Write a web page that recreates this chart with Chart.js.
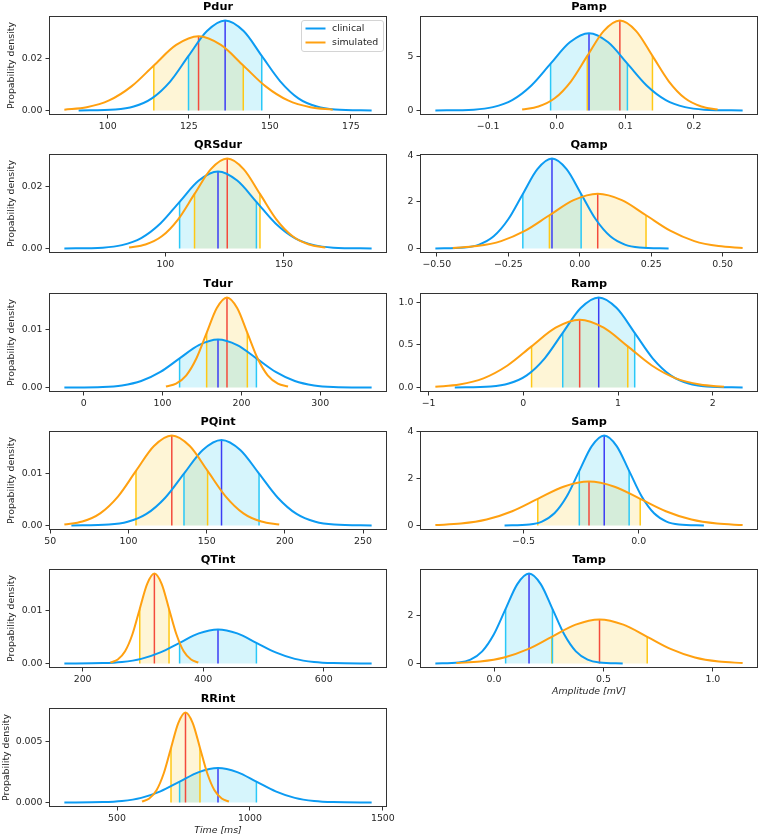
<!DOCTYPE html>
<html>
<head>
<meta charset="utf-8">
<title>ECG feature distributions</title>
<script src="https://cdn.jsdelivr.net/npm/chart.js@4.4.1/dist/chart.umd.min.js"></script>
<style>
  html, body { margin: 0; padding: 0; background: #fff; }
  body { width: 760px; height: 837px; position: relative; overflow: hidden; }
  canvas { position: absolute; }
</style>
</head>
<body>
<script>
// Density curves (x in feature units, y = probability density)
const pdurClinX = [91.0, 102.3, 108.0, 113.6, 119.3, 124.9, 130.6, 136.2, 141.9, 147.5, 153.2, 158.8, 164.5, 170.1, 181.4];
const pdurClinY = [0.00001, 0.00039, 0.00153, 0.00472, 0.01133, 0.02117, 0.0308, 0.0349, 0.0308, 0.02117, 0.01133, 0.00472, 0.00153, 0.00039, 0.00001];
const pdurSimX = [86.6, 93.5, 100.4, 107.3, 114.2, 121.1, 128.0, 134.9, 141.8, 148.7, 155.6, 162.5, 169.4];
const pdurSimY = [0.00032, 0.00126, 0.0039, 0.00935, 0.01747, 0.02542, 0.0288, 0.02542, 0.01747, 0.00935, 0.0039, 0.00126, 0.00032];

const pampClinX = [-0.177, -0.121, -0.093, -0.065, -0.037, -0.009, 0.019, 0.047, 0.075, 0.103, 0.131, 0.159, 0.187, 0.215, 0.271];
const pampClinY = [0.002, 0.079, 0.314, 0.967, 2.322, 4.336, 6.31, 7.15, 6.31, 4.336, 2.322, 0.967, 0.314, 0.079, 0.002];
const pampSimX = [-0.0505, -0.0268, -0.003, 0.0208, 0.0445, 0.0683, 0.092, 0.1158, 0.1395, 0.1633, 0.187, 0.2108, 0.2345];
const pampSimY = [0.092, 0.366, 1.127, 2.705, 5.052, 7.351, 8.33, 7.351, 5.052, 2.705, 1.127, 0.366, 0.092];

const qrsdurClinX = [57.4, 73.6, 81.7, 89.8, 97.9, 106.0, 114.1, 122.2, 130.3, 138.4, 146.5, 154.6, 162.7, 170.8, 187.0];
const qrsdurClinY = [0.00001, 0.00028, 0.00109, 0.00337, 0.00809, 0.0151, 0.02197, 0.0249, 0.02197, 0.0151, 0.00809, 0.00337, 0.00109, 0.00028, 0.00001];
const qrsdurSimX = [84.7, 91.6, 98.5, 105.4, 112.3, 119.2, 126.1, 133.0, 139.9, 146.8, 153.7, 160.6, 167.5];
const qrsdurSimY = [0.00032, 0.00128, 0.00394, 0.00945, 0.01765, 0.02568, 0.0291, 0.02568, 0.01765, 0.00945, 0.00394, 0.00128, 0.00032];

const qampClinX = [-0.505, -0.403, -0.352, -0.301, -0.25, -0.199, -0.148, -0.097, -0.046, 0.005, 0.056, 0.107, 0.158, 0.209, 0.311];
const qampClinY = [0.001, 0.043, 0.169, 0.522, 1.253, 2.341, 3.406, 3.86, 3.406, 2.341, 1.253, 0.522, 0.169, 0.043, 0.001];
const qampSimX = [-0.444, -0.3595, -0.275, -0.1905, -0.106, -0.0215, 0.063, 0.1475, 0.232, 0.3165, 0.401, 0.4855, 0.57];
const qampSimY = [0.026, 0.103, 0.318, 0.763, 1.425, 2.074, 2.35, 2.074, 1.425, 0.763, 0.318, 0.103, 0.026];

const tdurClinX = [-24.5, 24.2, 48.6, 72.9, 97.3, 121.6, 146.0, 170.3, 194.7, 219.0, 243.4, 267.7, 292.1, 316.4, 365.1];
const tdurClinY = [0.0000025, 0.000092, 0.000364, 0.001123, 0.002695, 0.005034, 0.007325, 0.0083, 0.007325, 0.005034, 0.002695, 0.001123, 0.000364, 0.000092, 0.0000025];
const tdurSimX = [104.3, 117.2, 130.1, 143.0, 155.9, 168.8, 181.7, 194.6, 207.5, 220.4, 233.3, 246.2, 259.1];
const tdurSimY = [0.000173, 0.000683, 0.002104, 0.005049, 0.009431, 0.013723, 0.01555, 0.013723, 0.009431, 0.005049, 0.002104, 0.000683, 0.000173];

const rampClinX = [-0.724, -0.344, -0.154, 0.036, 0.226, 0.416, 0.606, 0.796, 0.986, 1.176, 1.366, 1.556, 1.746, 1.936, 2.316];
const rampClinY = [0.0003, 0.0117, 0.0463, 0.1427, 0.3426, 0.6399, 0.931, 1.055, 0.931, 0.6399, 0.3426, 0.1427, 0.0463, 0.0117, 0.0003];
const rampSimX = [-0.929, -0.675, -0.421, -0.167, 0.087, 0.341, 0.595, 0.849, 1.103, 1.357, 1.611, 1.865, 2.119];
const rampSimY = [0.0088, 0.0349, 0.1076, 0.2581, 0.4822, 0.7016, 0.795, 0.7016, 0.4822, 0.2581, 0.1076, 0.0349, 0.0088];

const pqintClinX = [63.5, 87.5, 99.5, 111.5, 123.5, 135.5, 147.5, 159.5, 171.5, 183.5, 195.5, 207.5, 219.5, 231.5, 255.5];
const pqintClinY = [0.000005, 0.000184, 0.000729, 0.002246, 0.00539, 0.010068, 0.01465, 0.0166, 0.01465, 0.010068, 0.00539, 0.002246, 0.000729, 0.000184, 0.000005];
const pqintSimX = [59.0, 70.5, 81.9, 93.4, 104.8, 116.3, 127.7, 139.2, 150.6, 162.1, 173.5, 185.0, 196.4];
const pqintSimY = [0.000194, 0.000766, 0.002361, 0.005666, 0.010583, 0.0154, 0.01745, 0.0154, 0.010583, 0.005666, 0.002361, 0.000766, 0.000194];

const sampClinX = [-0.582, -0.474, -0.42, -0.366, -0.312, -0.258, -0.204, -0.15, -0.096, -0.042, 0.012, 0.066, 0.12, 0.174, 0.282];
const sampClinY = [0.001, 0.0427, 0.169, 0.5209, 1.2501, 2.335, 3.3976, 3.85, 3.3976, 2.335, 1.2501, 0.5209, 0.169, 0.0427, 0.001];
const sampSimX = [-0.882, -0.771, -0.66, -0.549, -0.438, -0.327, -0.216, -0.105, 0.006, 0.117, 0.228, 0.339, 0.45];
const sampSimY = [0.0209, 0.0825, 0.2544, 0.6104, 1.1402, 1.6591, 1.88, 1.6591, 1.1402, 0.6104, 0.2544, 0.0825, 0.0209];

const qtintClinX = [169.7, 233.4, 265.3, 297.1, 329.0, 360.8, 392.7, 424.5, 456.4, 488.2, 520.1, 551.9, 583.8, 615.6, 679.3];
const qtintClinY = [0.000002, 0.000071, 0.000281, 0.000866, 0.002078, 0.003882, 0.005648, 0.0064, 0.005648, 0.003882, 0.002078, 0.000866, 0.000281, 0.000071, 0.000002];
const qtintSimX = [246.1, 258.3, 270.4, 282.6, 294.7, 306.9, 319.0, 331.2, 343.3, 355.5, 367.6, 379.8, 391.9];
const qtintSimY = [0.000188, 0.000742, 0.002287, 0.005487, 0.01025, 0.014914, 0.0169, 0.014914, 0.01025, 0.005487, 0.002287, 0.000742, 0.000188];

const tampClinX = [-0.268, -0.161, -0.1075, -0.054, -0.0005, 0.053, 0.1065, 0.16, 0.2135, 0.267, 0.3205, 0.374, 0.4275, 0.481, 0.588];
const tampClinY = [0.001, 0.0413, 0.1633, 0.5033, 1.2079, 2.2562, 3.2829, 3.72, 3.2829, 2.2562, 1.2079, 0.5033, 0.1633, 0.0413, 0.001];
const tampSimX = [-0.172, -0.063, 0.046, 0.155, 0.264, 0.373, 0.482, 0.591, 0.7, 0.809, 0.918, 1.027, 1.136];
const tampSimY = [0.0202, 0.0799, 0.2462, 0.591, 1.1038, 1.6062, 1.82, 1.6062, 1.1038, 0.591, 0.2462, 0.0799, 0.0202];

const rrintClinX = [301.8, 446.3, 518.6, 590.8, 663.1, 735.3, 807.6, 879.8, 952.1, 1024.3, 1096.6, 1168.8, 1241.1, 1313.3, 1457.8];
const rrintClinY = [0.0000009, 0.0000315, 0.0001247, 0.0003843, 0.0009221, 0.0017225, 0.0025063, 0.00284, 0.0025063, 0.0017225, 0.0009221, 0.0003843, 0.0001247, 0.0000315, 0.0000009];
const rrintSimX = [594.0, 621.3, 648.5, 675.8, 703.0, 730.3, 757.5, 784.8, 812.0, 839.3, 866.5, 893.8, 921.0];
const rrintSimY = [0.0000825, 0.000326, 0.001005, 0.002413, 0.004506, 0.006557, 0.00743, 0.006557, 0.004506, 0.002413, 0.001005, 0.000326, 0.0000825];

// Tick labels
const pdurXTicks = [100, 125, 150, 175];      const pdurYTicks = [0, 0.02];
const pampXTicks = [-0.1, 0, 0.1, 0.2];       const pampYTicks = [0, 5];
const qrsdurXTicks = [100, 150];              const qrsdurYTicks = [0, 0.02];
const qampXTicks = [-0.5, -0.25, 0, 0.25, 0.5]; const qampYTicks = [0, 2, 4];
const tdurXTicks = [0, 100, 200, 300];        const tdurYTicks = [0, 0.01];
const rampXTicks = [-1, 0, 1, 2];             const rampYTicks = [0, 0.5, 1];
const pqintXTicks = [50, 100, 150, 200, 250]; const pqintYTicks = [0, 0.01];
const sampXTicks = [-0.5, 0];                 const sampYTicks = [0, 2, 4];
const qtintXTicks = [200, 400, 600];          const qtintYTicks = [0, 0.01];
const tampXTicks = [0, 0.5, 1];               const tampYTicks = [0, 2];
const rrintXTicks = [500, 1000, 1500];        const rrintYTicks = [0, 0.005];

// index of (mean - sd, mean, mean + sd) inside each curve
const CLIN_MARK_IDX = [5, 7, 9];
const SIM_MARK_IDX = [4, 6, 8];

const COLORS = {
    clin: '#0c9bf2',
    sim: '#ffa010',
    clinMean: '#3c3cf5',
    simMean: '#f44a3c',
    clinSd: '#29c8f8',
    simSd: '#ffc814',
    clinShade: 'rgba(0, 190, 235, 0.16)',
    simShade: 'rgba(250, 200, 30, 0.18)'
};

const PANELS = [
    { name: 'Pdur', col: 0, row: 0, cx: pdurClinX, cy: pdurClinY, sx: pdurSimX, sy: pdurSimY, xt: pdurXTicks, xd: 0, yt: pdurYTicks, yd: 2, legend: true },
    { name: 'Pamp', col: 1, row: 0, cx: pampClinX, cy: pampClinY, sx: pampSimX, sy: pampSimY, xt: pampXTicks, xd: 1, yt: pampYTicks, yd: 0 },
    { name: 'QRSdur', col: 0, row: 1, cx: qrsdurClinX, cy: qrsdurClinY, sx: qrsdurSimX, sy: qrsdurSimY, xt: qrsdurXTicks, xd: 0, yt: qrsdurYTicks, yd: 2 },
    { name: 'Qamp', col: 1, row: 1, cx: qampClinX, cy: qampClinY, sx: qampSimX, sy: qampSimY, xt: qampXTicks, xd: 2, yt: qampYTicks, yd: 0 },
    { name: 'Tdur', col: 0, row: 2, cx: tdurClinX, cy: tdurClinY, sx: tdurSimX, sy: tdurSimY, xt: tdurXTicks, xd: 0, yt: tdurYTicks, yd: 2 },
    { name: 'Ramp', col: 1, row: 2, cx: rampClinX, cy: rampClinY, sx: rampSimX, sy: rampSimY, xt: rampXTicks, xd: 0, yt: rampYTicks, yd: 1 },
    { name: 'PQint', col: 0, row: 3, cx: pqintClinX, cy: pqintClinY, sx: pqintSimX, sy: pqintSimY, xt: pqintXTicks, xd: 0, yt: pqintYTicks, yd: 2 },
    { name: 'Samp', col: 1, row: 3, cx: sampClinX, cy: sampClinY, sx: sampSimX, sy: sampSimY, xt: sampXTicks, xd: 1, yt: sampYTicks, yd: 0 },
    { name: 'QTint', col: 0, row: 4, cx: qtintClinX, cy: qtintClinY, sx: qtintSimX, sy: qtintSimY, xt: qtintXTicks, xd: 0, yt: qtintYTicks, yd: 2 },
    { name: 'Tamp', col: 1, row: 4, cx: tampClinX, cy: tampClinY, sx: tampSimX, sy: tampSimY, xt: tampXTicks, xd: 1, yt: tampYTicks, yd: 0, xTitle: 'Amplitude [mV]' },
    { name: 'RRint', col: 0, row: 5, cx: rrintClinX, cy: rrintClinY, sx: rrintSimX, sy: rrintSimY, xt: rrintXTicks, xd: 0, yt: rrintYTicks, yd: 3, xTitle: 'Time [ms]', yPad: 0.7 }
];

const TEXT_SIZE = 9.4;
Chart.defaults.font.family = "'DejaVu Sans', 'Liberation Sans', sans-serif";
Chart.defaults.font.size = TEXT_SIZE;
Chart.defaults.color = '#262626';

function fmt(v, dec) {
    const s = Number(v).toFixed(dec);
    return s.charAt(0) === '-' ? '\u2212' + s.slice(1) : s;
}

function toPoints(xs, ys) {
    return xs.map((x, i) => ({ x: x, y: ys[i] }));
}

function curve(points, color) {
    return {
        data: points,
        borderColor: color,
        borderWidth: 2,
        pointRadius: 0,
        pointHoverRadius: 0,
        fill: false,
        cubicInterpolationMode: 'monotone'
    };
}

// fill under the curve only between mean - sd and mean + sd
function shade(points, idx, color) {
    return {
        data: points,
        borderColor: 'rgba(0,0,0,0)',
        borderWidth: 0,
        backgroundColor: 'rgba(0,0,0,0)',
        pointRadius: 0,
        pointHoverRadius: 0,
        fill: 'origin',
        cubicInterpolationMode: 'monotone',
        segment: {
            backgroundColor: ctx => (ctx.p0DataIndex >= idx[0] && ctx.p1DataIndex <= idx[2]) ? color : 'rgba(0,0,0,0)'
        }
    };
}

function markLine(x, h, color) {
    return {
        data: [{ x: x, y: 0 }, { x: x, y: h }],
        borderColor: color,
        borderWidth: 1.5,
        pointRadius: 0,
        pointHoverRadius: 0,
        fill: false
    };
}

// full box around the axes + the legend of the first panel
const framePlugin = {
    id: 'frame',
    afterDraw(chart, args, opts) {
        const { ctx, chartArea: a } = chart;
        ctx.save();
        ctx.strokeStyle = '#333';
        ctx.lineWidth = 1;
        const x0 = Math.round(a.left) + 0.5, y0 = Math.round(a.top) + 0.5;
        const x1 = Math.round(a.right) - 0.5, y1 = Math.round(a.bottom) - 0.5;
        ctx.strokeRect(x0, y0, x1 - x0, y1 - y0);

        if (opts.legend) {
            const bx = a.right - 85.5, by = a.top + 4.5, bw = 82, bh = 31;
            ctx.fillStyle = 'rgba(255,255,255,0.8)';
            ctx.strokeStyle = '#d4d4d4';
            ctx.beginPath();
            if (ctx.roundRect) ctx.roundRect(bx, by, bw, bh, 2.5);
            else ctx.rect(bx, by, bw, bh);
            ctx.fill();
            ctx.stroke();
            const rows = [['clinical', COLORS.clin], ['simulated', COLORS.sim]];
            rows.forEach((r, i) => {
                const y = by + 8 + i * 14;
                ctx.strokeStyle = r[1];
                ctx.lineWidth = 2;
                ctx.beginPath();
                ctx.moveTo(bx + 4, y);
                ctx.lineTo(bx + 24, y);
                ctx.stroke();
                ctx.fillStyle = '#262626';
                ctx.font = TEXT_SIZE + "px 'DejaVu Sans', sans-serif";
                ctx.textBaseline = 'middle';
                ctx.textAlign = 'left';
                ctx.fillText(r[0], bx + 30.5, y);
            });
        }
        ctx.restore();
    }
};

const ROW_TOP = 16, ROW_STEP = 138.35, AREA_H = 99, TITLE_H = 20;

function renderPanel(p) {
    const clin = toPoints(p.cx, p.cy);
    const sim = toPoints(p.sx, p.sy);
    const allX = p.cx.concat(p.sx);
    const xMin = Math.min(...allX), xMax = Math.max(...allX);
    const xPad = 0.05 * (xMax - xMin);
    const yTop = Math.max(...p.cy, ...p.sy);

    const ci = CLIN_MARK_IDX, si = SIM_MARK_IDX;
    const datasets = [
        curve(sim, COLORS.sim),
        curve(clin, COLORS.clin),
        markLine(p.cx[ci[1]], p.cy[ci[1]], COLORS.clinMean),
        markLine(p.cx[ci[0]], p.cy[ci[0]], COLORS.clinSd),
        markLine(p.cx[ci[2]], p.cy[ci[2]], COLORS.clinSd),
        markLine(p.sx[si[1]], p.sy[si[1]], COLORS.simMean),
        markLine(p.sx[si[0]], p.sy[si[0]], COLORS.simSd),
        markLine(p.sx[si[2]], p.sy[si[2]], COLORS.simSd),
        shade(clin, ci, COLORS.clinShade),
        shade(sim, si, COLORS.simShade)
    ];

    const areaTop = Math.round(ROW_TOP + p.row * ROW_STEP);
    const xh = p.xTitle ? 34 : 22;
    const left = p.col ? 380 : 0;
    const width = p.col ? 380 : 400;
    const height = TITLE_H + AREA_H + xh;

    const canvas = document.createElement('canvas');
    canvas.width = width;
    canvas.height = height;
    canvas.style.left = left + 'px';
    canvas.style.top = (areaTop - TITLE_H) + 'px';
    canvas.style.width = width + 'px';
    canvas.style.height = height + 'px';
    document.body.appendChild(canvas);

    const tickGrid = {
        display: true,
        drawOnChartArea: false,
        drawTicks: true,
        tickLength: 3.5,
        color: '#333',
        tickColor: '#333',
        tickWidth: 1
    };

    new Chart(canvas, {
        type: 'line',
        data: { datasets: datasets },
        options: {
            responsive: false,
            maintainAspectRatio: false,
            animation: false,
            events: [],
            layout: { padding: { left: 0, right: p.col ? 2 : 13, top: 0, bottom: 0 } },
            plugins: {
                legend: { display: false },
                tooltip: { enabled: false },
                title: {
                    display: true,
                    text: p.name,
                    fullSize: false,
                    color: '#000',
                    font: { size: 11.3, weight: 'bold' },
                    padding: { top: 4.7, bottom: 1.74 }
                },
                frame: { legend: !!p.legend }
            },
            scales: {
                x: {
                    type: 'linear',
                    bounds: 'data',
                    min: xMin - xPad,
                    max: xMax + xPad,
                    afterBuildTicks: s => { s.ticks = p.xt.map(v => ({ value: v })); },
                    afterFit: s => { s.height = xh; },
                    ticks: { autoSkip: false, maxRotation: 0, padding: 2.8, callback: v => fmt(v, p.xd) },
                    grid: tickGrid,
                    border: { display: false },
                    title: {
                        display: !!p.xTitle,
                        text: p.xTitle || '',
                        font: { size: TEXT_SIZE, style: 'italic' },
                        padding: { top: 0, bottom: 4.4 }
                    }
                },
                y: {
                    type: 'linear',
                    bounds: 'data',
                    min: -0.05 * yTop,
                    max: 1.05 * yTop,
                    afterBuildTicks: s => { s.ticks = p.yt.map(v => ({ value: v })); },
                    afterFit: s => { s.width = p.col ? 40 : 49; },
                    ticks: { autoSkip: false, padding: 3, callback: v => fmt(v, p.yd) },
                    grid: tickGrid,
                    border: { display: false },
                    title: {
                        display: p.col === 0,
                        text: 'Propability density',
                        font: { size: TEXT_SIZE },
                        padding: { top: p.yPad !== undefined ? p.yPad : 5.9, bottom: 0 }
                    }
                }
            }
        },
        plugins: [framePlugin]
    });
}

PANELS.forEach(renderPanel);
</script>
</body>
</html>
